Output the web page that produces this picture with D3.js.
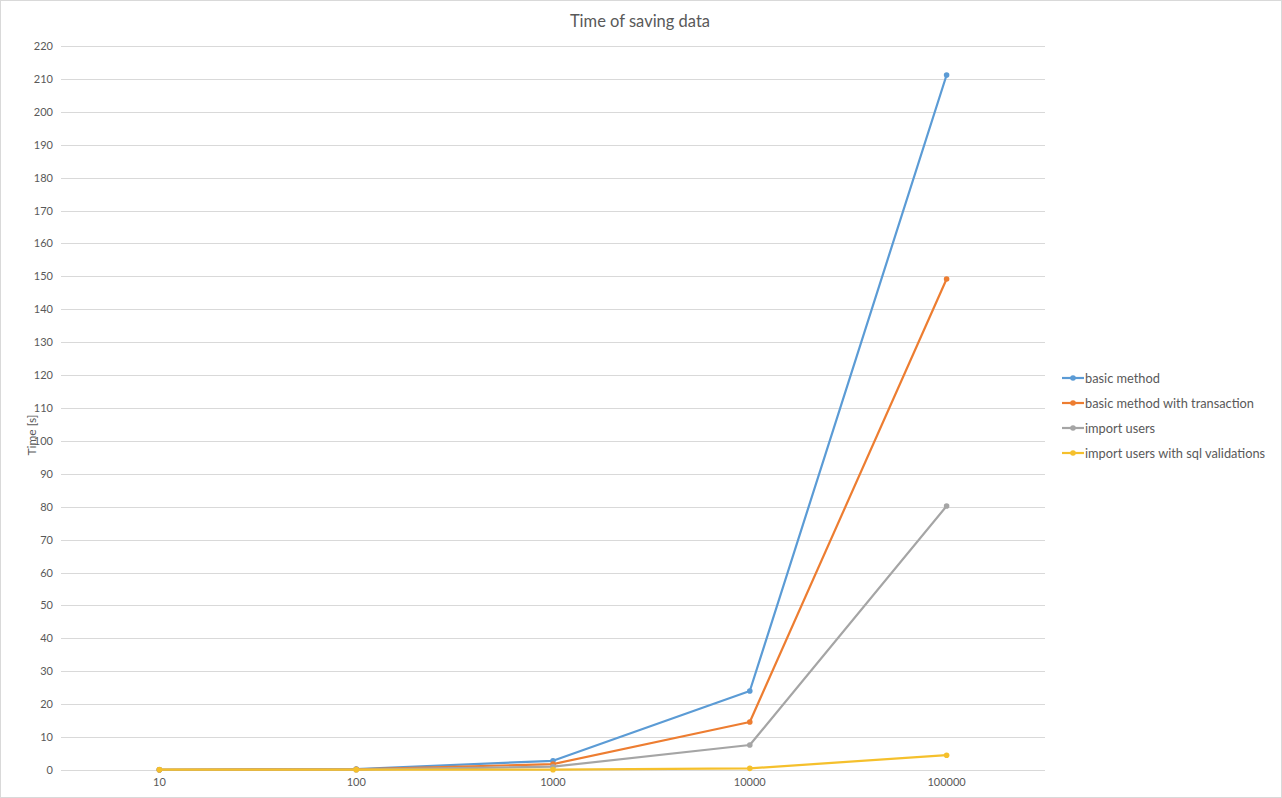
<!DOCTYPE html>
<html>
<head>
<meta charset="utf-8">
<script src="https://cdn.jsdelivr.net/npm/d3@7"></script>
<style>
  body { margin: 0; background: #fff; }
  svg { display: block; font-family: Lato, "Liberation Sans", sans-serif; }
</style>
</head>
<body>
<script>
// chart data
var categories = ["10", "100", "1000", "10000", "100000"];
var seriesNames = ["basic method", "basic method with transaction", "import users", "import users with sql validations"];
var basicMethod = [0.05, 0.3, 2.8, 24.0, 211.2];
var basicTransaction = [0.05, 0.2, 1.8, 14.6, 149.2];
var importUsers = [0.05, 0.1, 1.0, 7.6, 80.2];
var importSql = [0.1, 0.1, 0.1, 0.5, 4.5];
var yTicks = d3.range(0, 221, 10);
var colors = ["#5b9bd5", "#ed7d31", "#a5a5a5", "#f5c02c"];

var allSeries = [basicMethod, basicTransaction, importUsers, importSql];

var width = 1282, height = 798;
var plotLeft = 61, plotRight = 1045, plotTop = 46, plotBottom = 770;

var svg = d3.select("body").append("svg").attr("width", width).attr("height", height);

// outer chart border
svg.append("rect").attr("x", 0.5).attr("y", 0.5).attr("width", width - 1).attr("height", height - 1)
  .attr("fill", "#fff").attr("stroke", "#d9d9d9");

var x = d3.scaleBand().domain(categories).range([plotLeft, plotRight]);
var y = d3.scaleLinear().domain([0, 220]).range([plotBottom, plotTop]);

// gridlines
svg.append("g").selectAll("line").data(yTicks).enter().append("line")
  .attr("x1", plotLeft).attr("x2", plotRight)
  .attr("y1", function(d){return Math.round(y(d)) + 0.5;}).attr("y2", function(d){return Math.round(y(d)) + 0.5;})
  .attr("stroke", "#d9d9d9").attr("stroke-width", 1);

// y tick labels
var yAxis = svg.append("g").attr("transform", "translate(" + (plotLeft - 8) + ",0)")
  .call(d3.axisLeft(y).tickValues(yTicks).tickSize(0).tickPadding(0));
yAxis.select(".domain").remove();
yAxis.selectAll("text").attr("fill", "#595959").style("font-size", "11px").style("font-family", "Lato, 'Liberation Sans', sans-serif");

// x tick labels
var xAxis = svg.append("g").attr("transform", "translate(0," + (plotBottom + 8) + ")")
  .call(d3.axisBottom(x).tickSize(0).tickPadding(0));
xAxis.select(".domain").remove();
xAxis.selectAll("text").attr("fill", "#595959").style("font-size", "11px").style("font-family", "Lato, 'Liberation Sans', sans-serif");

// title
svg.append("text").attr("x", 640).attr("y", 27).attr("text-anchor", "middle")
  .attr("fill", "#595959").style("font-size", "16.5px").text("Time of saving data");

// y axis title
svg.append("text").attr("transform", "translate(36,435) rotate(-90)").attr("text-anchor", "middle")
  .attr("fill", "#595959").style("font-size", "12px").text("Time [s]");

var line = d3.line()
  .x(function(d, i){return x(categories[i]) + x.bandwidth() / 2;})
  .y(function(d){return y(d);});

// later series drawn on top, as in the source chart
allSeries.forEach(function(values, s) {
  var g = svg.append("g");
  g.append("path").datum(values).attr("d", line)
    .attr("fill", "none").attr("stroke", colors[s]).attr("stroke-width", 2.2)
    .attr("stroke-linejoin", "round");
  g.selectAll("circle").data(values).enter().append("circle")
    .attr("cx", function(d, i){return x(categories[i]) + x.bandwidth() / 2;})
    .attr("cy", function(d){return y(d);})
    .attr("r", 2.8).attr("fill", colors[s]);
});

// legend
var legend = svg.append("g").selectAll("g").data(seriesNames).enter().append("g")
  .attr("transform", function(d, i){return "translate(1062," + (378 + i * 25) + ")";});
legend.append("line").attr("x1", 0).attr("x2", 22).attr("y1", 0).attr("y2", 0)
  .attr("stroke", function(d, i){return colors[i];}).attr("stroke-width", 2.2);
legend.append("circle").attr("cx", 11).attr("cy", 0).attr("r", 2.8)
  .attr("fill", function(d, i){return colors[i];});
legend.append("text").attr("x", 23).attr("y", 4.5).attr("fill", "#595959")
  .style("font-size", "12.8px").text(function(d){return d;});
</script>
</body>
</html>
